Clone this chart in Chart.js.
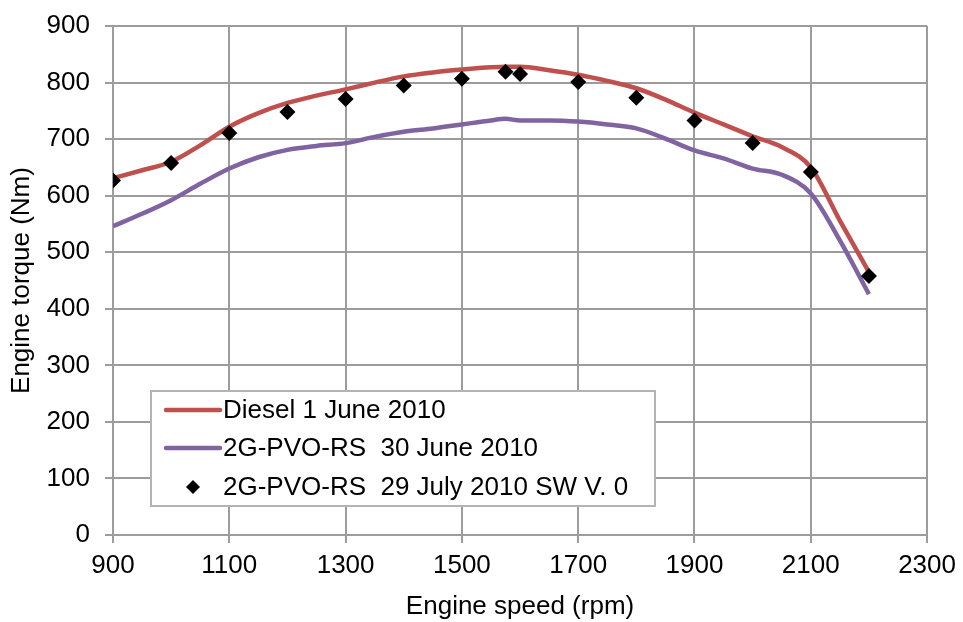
<!DOCTYPE html>
<html lang="en">
<head>
    <meta charset="UTF-8">
    <title>Engine torque</title>
    <script src="https://cdn.jsdelivr.net/npm/chart.js"></script>
    <style>
        body { margin: 0; background: #fff; }
        #grafico { width: 963px; height: 622px; }
    </style>
</head>
<body>
    <div id="grafico">
        <canvas id="torqueCanvas" width="963" height="622"></canvas>
    </div>

<script>
    // engine speed (rpm) for the two full-load curves
    const rpmCurvas = [900, 950, 1000, 1050, 1100, 1150, 1200, 1250, 1300, 1350, 1400, 1450, 1500, 1550,
        1575, 1600, 1650, 1700, 1750, 1800, 1850, 1900, 1950, 2000, 2050, 2100, 2150, 2200];
    const torqueDiesel = [631, 645, 660, 689, 722, 746, 764, 777, 788, 800, 811, 818, 823, 827,
        828, 828, 822, 814, 803, 790, 770, 747, 726, 705, 686, 650, 556, 465];
    const torquePvoJune = [546, 568, 592, 621, 648, 668, 681, 688, 693, 704, 713, 719, 726, 733,
        736, 733, 733, 731, 726, 719, 701, 680, 666, 648, 637, 604, 521, 426];

    // measured points, 29 July
    const rpmPontos = [900, 1000, 1100, 1200, 1300, 1400, 1500, 1575, 1600, 1700, 1800, 1900, 2000, 2100, 2200];
    const torquePvoJuly = [627, 658, 711, 748, 771, 795, 807, 819, 815, 801, 773, 733, 693, 642, 458];

    const nomesSeries = ['Diesel 1 June 2010', '2G-PVO-RS  30 June 2010', '2G-PVO-RS  29 July 2010 SW V. 0'];
    const ticksX = [900, 1100, 1300, 1500, 1700, 1900, 2100, 2300];
    const ticksY = [0, 100, 200, 300, 400, 500, 600, 700, 800, 900];

    const fonte = "'Liberation Sans', Arial, sans-serif";
    const corGrade = '#9c9c9c';

    function pares(xs, ys) {
        return xs.map((x, i) => ({ x: x, y: ys[i] }));
    }

    // legend box inside the plot, drawn by hand
    const legendaBox = {
        id: 'legendaBox',
        afterDraw(chart) {
            const ctx = chart.ctx;
            const x0 = 151, y0 = 391, w = 504, h = 115;
            ctx.save();
            ctx.fillStyle = '#fff';
            ctx.fillRect(x0, y0, w, h);
            ctx.strokeStyle = '#b4b4b4';
            ctx.lineWidth = 2;
            ctx.strokeRect(x0, y0, w, h);

            ctx.font = '26px ' + fonte;
            ctx.textBaseline = 'middle';
            ctx.fillStyle = '#000';
            const linhas = [410, 448, 487];
            chart.data.datasets.forEach((ds, i) => {
                const y = linhas[i];
                if (ds.showLine === false) {
                    ctx.fillStyle = '#000';
                    ctx.beginPath();
                    ctx.moveTo(186, y); ctx.lineTo(193, y - 7);
                    ctx.lineTo(200, y); ctx.lineTo(193, y + 7);
                    ctx.closePath();
                    ctx.fill();
                } else {
                    ctx.strokeStyle = ds.borderColor;
                    ctx.lineWidth = 4.5;
                    ctx.lineCap = 'round';
                    ctx.beginPath();
                    ctx.moveTo(166, y); ctx.lineTo(220, y);
                    ctx.stroke();
                }
                ctx.fillStyle = '#000';
                ctx.fillText(ds.label, 223, y + 1);
            });
            ctx.restore();
        }
    };

    const dados = {
        datasets: [
            {
                label: nomesSeries[0],
                data: pares(rpmCurvas, torqueDiesel),
                borderColor: '#C0504D',
                borderWidth: 4.5,
                pointRadius: 0,
                cubicInterpolationMode: 'monotone',
                order: 2
            },
            {
                label: nomesSeries[1],
                data: pares(rpmCurvas, torquePvoJune),
                borderColor: '#8064A2',
                borderWidth: 4.5,
                pointRadius: 0,
                cubicInterpolationMode: 'monotone',
                order: 3
            },
            {
                label: nomesSeries[2],
                data: pares(rpmPontos, torquePvoJuly),
                showLine: false,
                pointStyle: 'rectRot',
                pointRadius: 8,
                backgroundColor: '#000',
                borderColor: '#000',
                borderWidth: 0,
                order: 1
            }
        ]
    };

    const config = {
        type: 'line',
        data: dados,
        options: {
            responsive: false,
            animation: false,
            layout: { padding: { left: 0, right: 35, top: 0, bottom: 0 } },
            plugins: {
                legend: { display: false },
                tooltip: { enabled: false }
            },
            scales: {
                x: {
                    type: 'linear',
                    min: 900,
                    max: 2300,
                    afterBuildTicks(scale) {
                        scale.ticks = ticksX.map(v => ({ value: v }));
                    },
                    afterFit(scale) { scale.height = 87; },
                    grid: { color: corGrade, lineWidth: 2, tickLength: 8 },
                    border: { color: corGrade, width: 2 },
                    ticks: {
                        color: '#000', padding: 7, maxRotation: 0,
                        font: { family: fonte, size: 26 },
                        callback: v => String(v)
                    },
                    title: {
                        display: true,
                        text: 'Engine speed (rpm)',
                        color: '#000',
                        padding: { top: 0, bottom: 0 },
                        font: { family: fonte, size: 26 }
                    }
                },
                y: {
                    min: 0,
                    max: 900,
                    afterBuildTicks(scale) {
                        scale.ticks = ticksY.map(v => ({ value: v }));
                    },
                    afterFit(scale) { scale.width = 113; },
                    grid: { color: corGrade, lineWidth: 2, tickLength: 8 },
                    border: { color: corGrade, width: 2 },
                    ticks: {
                        color: '#000', padding: 15,
                        font: { family: fonte, size: 26, lineHeight: 0.85 },
                        callback: v => String(v)
                    },
                    title: {
                        display: true,
                        text: 'Engine torque (Nm)',
                        color: '#000',
                        padding: { top: 6, bottom: 0 },
                        font: { family: fonte, size: 26 }
                    }
                }
            }
        },
        plugins: [legendaBox]
    };

    new Chart(document.getElementById('torqueCanvas'), config);
</script>
</body>
</html>
